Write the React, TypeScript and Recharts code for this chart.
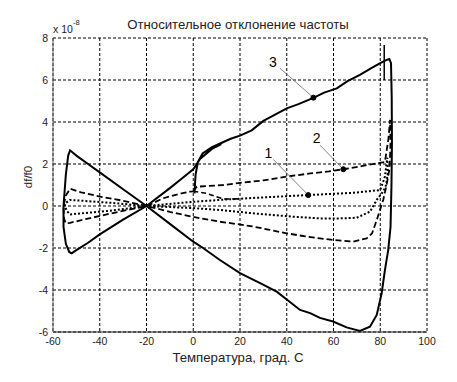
import React from 'react';
import { LineChart, Line, XAxis, YAxis, CartesianGrid, ReferenceDot, ReferenceLine } from 'recharts';

// Curve 3 (solid): temperature, df/f0 (x1e-8)
const curve3T = [0.5, 1, 2, 4, 8, 12, 16, 20, 25, 30, 35, 40, 45, 51.4, 56, 61.4, 66, 71.3, 76, 80, 82.5, 83.9, 84.6, 84.9, 85, 84.8, 84.4, 83.4, 82, 80.6, 78.5, 75.6, 71.3, 65.6, 59.8, 54.2, 50, 45.7, 40, 35.7, 28.6, 20, 11.4, 4.2, 0, -10, -20, -30, -40, -45, -50, -52.7, -53.5, -54.5, -55.5, -55.5, -54.5, -53, -52, -50, -45, -40, -30, -20, -10, -5, 0, 3, 8, 12];
const curve3V = [0.6, 1.5, 2.1, 2.5, 2.8, 3.0, 3.2, 3.35, 3.6, 4.05, 4.35, 4.65, 4.85, 5.15, 5.4, 5.6, 5.95, 6.24, 6.55, 6.8, 6.95, 7.0, 6.8, 5.2, 3.0, 1.0, -1.0, -2.1, -3.05, -4.16, -5.19, -5.75, -5.95, -5.78, -5.5, -5.33, -5.1, -4.95, -4.45, -4.08, -3.67, -3.2, -2.57, -2.0, -1.7, -0.85, 0, 0.8, 1.6, 2.0, 2.4, 2.65, 2.4, 1.5, 0, -1.0, -1.8, -2.2, -2.25, -2.1, -1.75, -1.35, -0.65, 0, 0.85, 1.3, 1.75, 2.25, 2.72, 2.95];

// Curve 2 (dashed)
const curve2T = [0, 1.5, 6, 12.9, 20, 30, 40, 50, 58, 64.2, 72, 78.5, 82, 83.5, 84.2, 84.4, 84, 82.7, 81.3, 78.5, 76.5, 74.2, 68.5, 60, 54.2, 48, 40, 32, 25.7, 18, 11.4, 0, -10, -20, -30, -40, -48, -52.7, -54.5, -55.5, -55.3, -54.5, -52.7, -45, -35, -20, -12.8, -5, -1.4, 0];
const curve2V = [0.7, 0.92, 0.95, 1.0, 1.1, 1.22, 1.4, 1.55, 1.65, 1.75, 1.9, 2.03, 2.1, 3.2, 4.1, 3.0, 1.8, 1.0, 0.3, -0.67, -1.3, -1.54, -1.7, -1.62, -1.54, -1.45, -1.3, -1.12, -0.98, -0.85, -0.75, -0.52, -0.28, 0, 0.25, 0.45, 0.65, 0.82, 0.5, 0, -0.6, -0.83, -0.8, -0.6, -0.35, 0, 0.37, 0.6, 0.68, 0.7];

// Short dashed branch near 0 C
const branchT = [0, 5.8, 12.9, 20];
const branchV = [0.7, 0.6, 0.33, 0.34];

// Curve 1 (dotted)
const curve1T = [0, 11.4, 30, 49.2, 68.5, 80, 82, 83, 83.3, 82.5, 81.3, 78.5, 75.6, 69.9, 62.8, 54.2, 42.8, 25.7, 11.4, 0, -20, -35, -52.7, -54.5, -55, -54, -52.7, -35, -20, -10, 0];
const curve1V = [0.2, 0.29, 0.41, 0.52, 0.63, 0.76, 1.4, 2.3, 1.6, 1.0, 0.7, 0.29, -0.27, -0.56, -0.59, -0.59, -0.51, -0.35, -0.19, -0.1, 0, 0.15, 0.29, 0.15, 0, -0.25, -0.4, -0.22, 0, 0.1, 0.2];

// Vertical marker near 82 C
const markerT = [81.7, 81.7];
const markerV = [6.0, 7.67];

const xTicks = [-60, -40, -20, 0, 20, 40, 60, 80, 100];
const yTicks = [-6, -4, -2, 0, 2, 4, 6, 8];

// Annotations: label position, leader start, dot position
const annotations = [
  { label: '1', lx: 32.1, ly: 2.51, sx: 34.2, sy: 2.22, dx: 49.2, dy: 0.52 },
  { label: '2', lx: 52.8, ly: 3.22, sx: 54.2, sy: 2.9, dx: 64.2, dy: 1.75 },
  { label: '3', lx: 34.1, ly: 6.86, sx: 37.1, sy: 6.56, dx: 51.4, dy: 5.16 },
];

const zip = (t: number[], v: number[]) => t.map((x, i) => ({ t: x, v: v[i] }));

const FONT = 'Liberation Sans, Arial, Helvetica, sans-serif';

export default function App() {
  const c3 = zip(curve3T, curve3V);
  const c2 = zip(curve2T, curve2V);
  const br = zip(branchT, branchV);
  const c1 = zip(curve1T, curve1V);
  const mk = zip(markerT, markerV);
  return (
    <div style={{ position: 'absolute', left: 0, top: 0, width: 457, height: 382, background: '#fff' }}>
      <LineChart width={457} height={382} margin={{ top: 38, right: 30, bottom: 30, left: 0 }}>
        <CartesianGrid stroke="#000" strokeDasharray="3 2" strokeWidth={1} />
        <XAxis
          dataKey="t"
          type="number"
          domain={[-60, 100]}
          ticks={xTicks}
          allowDataOverflow
          height={20}
          tickSize={0}
          tickMargin={6}
          stroke="#222"
          tick={{ fill: '#222', fontSize: 10.5, fontFamily: FONT }}
        />
        <YAxis
          type="number"
          domain={[-6, 8]}
          ticks={yTicks}
          allowDataOverflow
          width={53}
          tickSize={0}
          tickMargin={5}
          stroke="#666"
          tick={{ fill: '#222', fontSize: 10.5, fontFamily: FONT }}
        />
        <Line data={c3} dataKey="v" type="linear" stroke="#000" strokeWidth={2} dot={false} activeDot={false} isAnimationActive={false} />
        <Line data={c2} dataKey="v" type="linear" stroke="#000" strokeWidth={1.8} strokeDasharray="6 3" dot={false} activeDot={false} isAnimationActive={false} />
        <Line data={br} dataKey="v" type="linear" stroke="#000" strokeWidth={1.6} strokeDasharray="5 3" dot={false} activeDot={false} isAnimationActive={false} />
        <Line data={c1} dataKey="v" type="linear" stroke="#000" strokeWidth={2} strokeDasharray="2 2" dot={false} activeDot={false} isAnimationActive={false} />
        <Line data={mk} dataKey="v" type="linear" stroke="#000" strokeWidth={1.5} dot={false} activeDot={false} isAnimationActive={false} />
        {annotations.map((a) => (
          <ReferenceLine key={'l' + a.label} segment={[{ x: a.sx, y: a.sy }, { x: a.dx, y: a.dy }]} stroke="#777" strokeWidth={0.9} />
        ))}
        {annotations.map((a) => (
          <ReferenceDot key={'d' + a.label} x={a.dx} y={a.dy} r={2.5} fill="#000" stroke="#000" />
        ))}
        {annotations.map((a) => (
          <ReferenceDot
            key={'t' + a.label}
            x={a.lx}
            y={a.ly}
            r={0.01}
            fill="none"
            stroke="none"
            label={{ value: a.label, position: 'center', fontSize: 14, fill: '#000', fontFamily: FONT }}
          />
        ))}
      </LineChart>
      <svg width={457} height={382} style={{ position: 'absolute', left: 0, top: 0, pointerEvents: 'none' }}>
        <text x={238} y={29} textAnchor="middle" fontSize={13.2} fill="#222" fontFamily={FONT}>Относительное отклонение частоты</text>
        <text x={53} y={33} fontSize={10.5} fill="#222" fontFamily={FONT}>x 10</text>
        <text x={73} y={25} fontSize={7.5} fill="#222" fontFamily={FONT}>-8</text>
        <text x={238} y={362} textAnchor="middle" fontSize={13.2} fill="#222" fontFamily={FONT}>Температура, град. С</text>
        <text x={32} y={177} textAnchor="middle" fontSize={11.5} fill="#222" fontFamily={FONT} transform="rotate(-90 32 177)">df/f0</text>
      </svg>
    </div>
  );
}
